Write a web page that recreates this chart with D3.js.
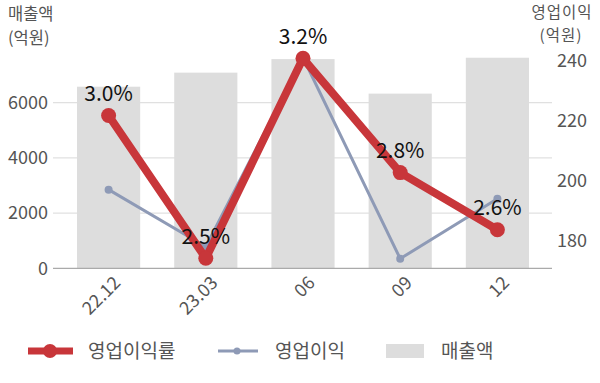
<!DOCTYPE html>
<html><head><meta charset="utf-8">
<script src="https://cdn.jsdelivr.net/npm/d3@7"></script>
<style>
body{margin:0;background:#fff;}
svg{display:block;font-family:"Noto Sans CJK KR","Noto Sans",sans-serif;}
</style></head>
<body><svg id="c" width="600" height="383"></svg>
<script>
const categories = ["22.12","23.03","06","09","12"];
const sales = [6580, 7090, 7580, 6330, 7630];
const opProfit = [197, 178, 241, 174, 194];
const margin = [3.0, 2.5, 3.2, 2.8, 2.6];
const marginLabels = ["3.0%","2.5%","3.2%","2.8%","2.6%"];
const leftTicks = [0, 2000, 4000, 6000];
const rightTicks = [180, 200, 220, 240];

const svg = d3.select("#c");
const plotTop = 55.8, plotBottom = 268.3;
const x = d3.scaleBand().domain(categories).range([60, 546]).paddingInner(0.35).paddingOuter(0.175);
const yL = d3.scaleLinear().domain([0, 7700]).range([plotBottom, plotTop]);
const yR = d3.scaleLinear().domain([170.8, 241.6]).range([plotBottom, plotTop]);
const yM = d3.scaleLinear().domain([2.465, 3.209]).range([plotBottom, plotTop]);
const cx = d => x(d) + x.bandwidth()/2;

const RED = "#c8363a", BLUE = "#8e9ab6", BAR = "#dddddd", GRID = "#d9d9d9", TXT = "#555";

// gridlines
svg.append("g").selectAll("line").data(leftTicks.filter(t=>t>0)).join("line")
  .attr("x1", 53).attr("x2", 552).attr("y1", d=>yL(d)).attr("y2", d=>yL(d))
  .attr("stroke", GRID).attr("stroke-width", 1);

// bars
svg.append("g").selectAll("rect").data(categories).join("rect")
  .attr("x", d=>x(d)).attr("width", x.bandwidth())
  .attr("y", (d,i)=>yL(sales[i])).attr("height", (d,i)=>plotBottom - yL(sales[i]))
  .attr("fill", BAR);

// x axis line
svg.append("line").attr("x1", 53).attr("x2", 552).attr("y1", plotBottom).attr("y2", plotBottom)
  .attr("stroke", "#aaa").attr("stroke-width", 1.3);

// left ticks
svg.append("g").selectAll("text").data(leftTicks).join("text")
  .attr("x", 48).attr("y", d=>yL(d)).attr("dy", "0.35em").attr("text-anchor", "end")
  .attr("font-size", 18).attr("fill", TXT).text(d=>d);
// right ticks
svg.append("g").selectAll("text").data(rightTicks).join("text")
  .attr("x", 557).attr("y", d=>yR(d)).attr("dy", "0.35em").attr("text-anchor", "start")
  .attr("font-size", 18).attr("fill", TXT).text(d=>d);

// axis titles
svg.append("text").attr("font-size", 16.5).attr("fill", TXT).attr("x", 8).attr("y", 19.5).text("매출액");
svg.append("text").attr("font-size", 16.5).attr("fill", TXT).attr("x", 8).attr("y", 43.5).text("(억원)");
svg.append("text").attr("font-size", 15.5).attr("letter-spacing", 1).attr("fill", TXT).attr("text-anchor", "middle").attr("x", 562).attr("y", 18.3).text("영업이익");
svg.append("text").attr("font-size", 15.5).attr("letter-spacing", 1).attr("fill", TXT).attr("text-anchor", "middle").attr("x", 561).attr("y", 40.8).text("(억원)");

// x labels
svg.append("g").selectAll("text").data(categories).join("text")
  .attr("transform", d=>`translate(${cx(d)+13},${284}) rotate(-45)`)
  .attr("text-anchor", "end").attr("font-size", 18).attr("fill", TXT).text(d=>d);

// op profit line
const lineR = d3.line().x((d,i)=>cx(categories[i])).y(d=>yR(d));
svg.append("path").datum(opProfit).attr("d", lineR).attr("fill", "none")
  .attr("stroke", BLUE).attr("stroke-width", 3);
svg.append("g").selectAll("circle").data(opProfit).join("circle")
  .attr("cx", (d,i)=>cx(categories[i])).attr("cy", d=>yR(d)).attr("r", 4).attr("fill", BLUE);

// margin line
const lineM = d3.line().x((d,i)=>cx(categories[i])).y(d=>yM(d));
svg.append("path").datum(margin).attr("d", lineM).attr("fill", "none")
  .attr("stroke", RED).attr("stroke-width", 8).attr("stroke-linejoin", "round");
svg.append("g").selectAll("circle").data(margin).join("circle")
  .attr("cx", (d,i)=>cx(categories[i])).attr("cy", d=>yM(d)).attr("r", 7.5).attr("fill", RED);

// margin labels
svg.append("g").selectAll("text").data(margin).join("text")
  .attr("x", (d,i)=>cx(categories[i])).attr("y", d=>yM(d) - 22).attr("dy", "0.35em")
  .attr("text-anchor", "middle").attr("font-size", 21).attr("fill", "#111").text((d,i)=>marginLabels[i]);

// legend
const lg = svg.append("g");
lg.append("line").attr("x1", 28).attr("x2", 73).attr("y1", 351).attr("y2", 351).attr("stroke", RED).attr("stroke-width", 7);
lg.append("circle").attr("cx", 50).attr("cy", 351).attr("r", 7).attr("fill", RED);
lg.append("text").attr("x", 88).attr("y", 351).attr("dy", "0.35em").attr("font-size", 19).attr("fill", TXT).text("영업이익률");
lg.append("line").attr("x1", 218).attr("x2", 258).attr("y1", 351).attr("y2", 351).attr("stroke", BLUE).attr("stroke-width", 3);
lg.append("circle").attr("cx", 237).attr("cy", 351).attr("r", 3.5).attr("fill", BLUE);
lg.append("text").attr("x", 275).attr("y", 351).attr("dy", "0.35em").attr("font-size", 19).attr("fill", TXT).text("영업이익");
lg.append("rect").attr("x", 386).attr("y", 344).attr("width", 38).attr("height", 14).attr("fill", BAR);
lg.append("text").attr("x", 441).attr("y", 351).attr("dy", "0.35em").attr("font-size", 19).attr("fill", TXT).text("매출액");
</script></body></html>
